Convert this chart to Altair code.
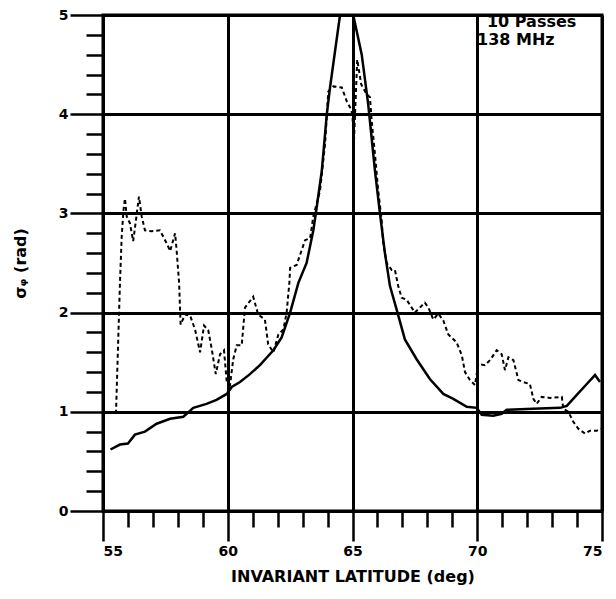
import altair as alt
import pandas as pd

solid_x = [55.3, 55.68, 56.0, 56.28, 56.68, 57.15, 57.69, 58.22, 58.62, 59.15, 59.55, 59.96, 60.16, 60.49,
           60.89, 61.29, 61.83, 62.16, 62.5, 62.83, 63.16, 63.43, 63.57, 63.77, 63.97, 64.1, 64.5, 64.78,
           65.03, 65.37, 65.63, 65.9, 66.1, 66.3, 66.5, 66.77, 67.1, 67.57, 68.1, 68.64, 69.04, 69.58,
           69.98, 70.18, 70.64, 70.98, 71.18, 72.23, 73.32, 73.59, 73.99, 74.39, 74.72, 74.92]
solid_y = [0.62, 0.67, 0.68, 0.77, 0.80, 0.88, 0.93, 0.95, 1.04, 1.08, 1.12, 1.18, 1.25, 1.30,
           1.38, 1.47, 1.62, 1.75, 2.0, 2.3, 2.5, 2.83, 3.07, 3.43, 4.0, 4.27, 5.0, 5.5,
           5.0, 4.6, 4.1, 3.43, 3.0, 2.6, 2.27, 2.03, 1.73, 1.53, 1.33, 1.18, 1.13, 1.05,
           1.04, 0.97, 0.96, 0.98, 1.02, 1.03, 1.04, 1.06, 1.17, 1.28, 1.37, 1.30]

dash_x = [55.52, 55.68, 55.75, 55.82, 55.88, 55.95, 56.08, 56.21, 56.32, 56.44, 56.55, 56.68, 56.95, 57.28,
          57.55, 57.69, 57.89, 57.95, 58.05, 58.11, 58.29, 58.49, 58.69, 58.89, 59.05, 59.22, 59.36, 59.52,
          59.69, 59.85, 59.96, 60.09, 60.22, 60.36, 60.56, 60.69, 61.02, 61.22, 61.49, 61.62, 61.83, 62.03,
          62.23, 62.36, 62.47, 62.5, 62.76, 63.1, 63.3, 63.43, 63.7, 63.9, 64.03, 64.23, 64.57, 64.77,
          64.9, 65.0, 65.05, 65.19, 65.35, 65.57, 65.7, 65.77, 65.9, 66.03, 66.17, 66.23, 66.37, 66.57,
          66.7, 66.83, 66.97, 67.17, 67.5, 67.7, 67.9, 68.04, 68.24, 68.44, 68.64, 68.84, 69.17, 69.38,
          69.51, 69.71, 69.91, 70.04, 70.31, 70.51, 70.78, 70.98, 71.11, 71.25, 71.45, 71.65, 71.85, 72.11,
          72.25, 72.38, 72.58, 72.92, 73.39, 73.45, 73.65, 73.85, 74.05, 74.32, 74.52, 74.79, 74.99]
dash_y = [0.98, 2.3, 2.77, 3.03, 3.15, 2.97, 2.9, 2.72, 2.93, 3.17, 2.97, 2.83, 2.82, 2.83,
          2.7, 2.62, 2.8, 2.63, 2.3, 1.88, 1.98, 1.97, 1.83, 1.6, 1.87, 1.82, 1.63, 1.38,
          1.58, 1.62, 1.3, 1.27, 1.53, 1.67, 1.67, 2.05, 2.16, 1.98, 1.93, 1.68, 1.6, 1.78,
          1.83, 2.0, 2.3, 2.45, 2.48, 2.73, 2.75, 2.97, 3.23, 3.7, 4.23, 4.28, 4.27, 4.13,
          4.07, 4.0, 3.67, 4.55, 4.3, 4.2, 4.17, 3.93, 3.6, 3.23, 2.93, 2.7, 2.5, 2.43,
          2.43, 2.27, 2.15, 2.13, 2.0, 2.05, 2.1, 2.05, 1.93, 1.99, 1.92, 1.78, 1.70, 1.57,
          1.40, 1.32, 1.27, 1.48, 1.47, 1.52, 1.62, 1.58, 1.42, 1.55, 1.52, 1.32, 1.30, 1.28,
          1.13, 1.08, 1.15, 1.14, 1.15, 1.03, 1.0, 0.90, 0.83, 0.78, 0.81, 0.81, 0.83]

x_ticks = list(range(55, 76))
y_ticks = [round(i * 0.2, 1) for i in range(26)]

note_text = ["10 Passes", "138 MHz"]
note_x = [70.39, 69.99]
note_y = [4.93, 4.75]

solid = pd.DataFrame({"lat": solid_x, "sigma": solid_y})
dashed = pd.DataFrame({"lat": dash_x, "sigma": dash_y})
notes = pd.DataFrame({"lat": note_x, "sigma": note_y, "label": note_text})

FONT = "DejaVu Sans"
x_scale = alt.Scale(domain=[55, 75], nice=False, zero=False)
y_scale = alt.Scale(domain=[0, 5], nice=False, zero=False)

x_major = "datum.value % 5 === 0"
y_major = "abs(datum.value - round(datum.value)) < 0.001"

x_axis = alt.Axis(
    values=x_ticks,
    tickSize={"condition": {"test": x_major, "value": 30}, "value": 16},
    tickWidth=2.5, tickColor="black",
    labelExpr=f"{x_major} ? datum.label : ''",
    labelFont=FONT, labelFontWeight="bold", labelFontSize=14, labelColor="black",
    labelPadding=3,
    grid=True, gridColor="black", gridWidth=3,
    gridOpacity={"condition": {"test": x_major, "value": 1}, "value": 0},
    domainColor="black", domainWidth=3,
    title="INVARIANT LATITUDE (deg)", titleFont=FONT, titleFontSize=16,
    titleFontWeight="bold", titleColor="black", titlePadding=10,
)
y_axis = alt.Axis(
    values=y_ticks,
    tickSize={"condition": {"test": y_major, "value": 33}, "value": 17},
    tickWidth=2.5, tickColor="black",
    labelExpr=f"{y_major} ? format(round(datum.value), 'd') : ''",
    labelFont=FONT, labelFontWeight="bold", labelFontSize=14, labelColor="black",
    labelPadding=2,
    grid=True, gridColor="black", gridWidth=3,
    gridOpacity={"condition": {"test": y_major, "value": 1}, "value": 0},
    domainColor="black", domainWidth=3,
    title="σᵩ (rad)", titleFont=FONT, titleFontSize=16,
    titleFontWeight="bold", titleColor="black", titlePadding=30,
)

enc_x = alt.X("lat:Q", scale=x_scale, axis=x_axis)
enc_y = alt.Y("sigma:Q", scale=y_scale, axis=y_axis)

solid_line = alt.Chart(solid).mark_line(color="black", strokeWidth=2.5, clip=True).encode(
    x=enc_x, y=enc_y)
dashed_line = alt.Chart(dashed).mark_line(color="black", strokeWidth=2, strokeDash=[4, 3], clip=True).encode(
    x=enc_x, y=enc_y)
note_marks = alt.Chart(notes).mark_text(
    align="left", baseline="middle", font=FONT, fontWeight="bold", fontSize=16, color="black"
).encode(x=enc_x, y=enc_y, text="label:N")

chart = alt.layer(solid_line, dashed_line, note_marks).properties(
    width=499, height=496,
    autosize=alt.AutoSizeParams(type="none"),
    padding={"left": 95, "top": 7, "right": 6, "bottom": 80},
    background="white",
).configure_view(stroke="black", strokeWidth=3)

chart.save("out.html", embed_options={"renderer": "svg", "actions": False})
